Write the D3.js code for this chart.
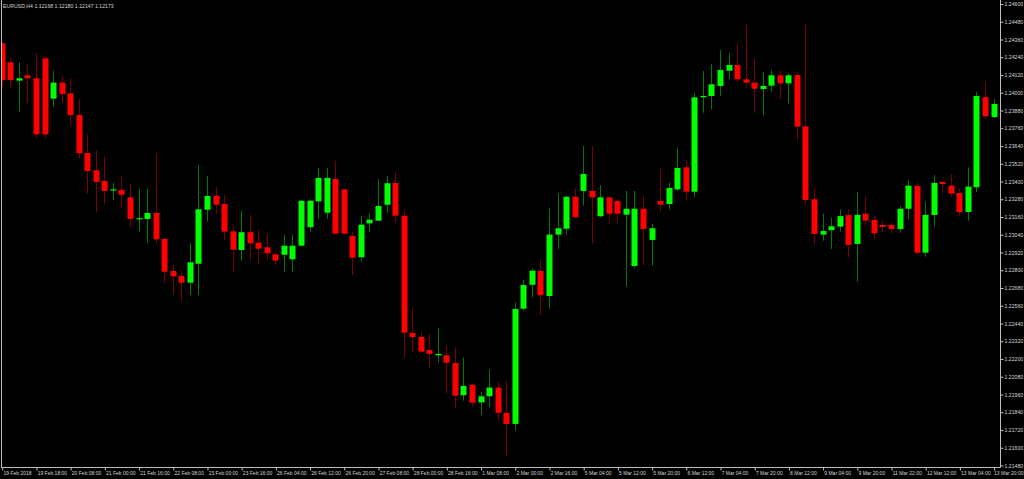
<!DOCTYPE html>
<html><head><meta charset="utf-8">
<script src="https://cdn.jsdelivr.net/npm/d3@7"></script>
<style>html,body{margin:0;padding:0;background:#000;overflow:hidden}</style>
</head><body><svg id="c" width="1024" height="479"></svg>
<script>
const title = "EURUSD,H4  1.12168 1.12180 1.12147 1.12173";

const opens = [1.24334,1.24206,1.24082,1.24118,1.24098,1.24233,1.23960,1.24068,1.23996,1.23850,
1.23593,1.23476,1.23404,1.23341,1.23343,1.23293,1.23145,1.23147,1.23187,1.23011,
1.22795,1.22761,1.22716,1.22844,1.23209,1.23304,1.23248,1.23063,1.22937,1.23057,
1.22986,1.22955,1.22908,1.22905,1.22874,1.22966,1.23091,1.23266,1.23189,1.23417,
1.23347,1.23032,1.22888,1.23117,1.23135,1.23243,1.23390,1.23169,1.22376,1.22349,
1.22261,1.22225,1.22225,1.22173,1.21955,1.22026,1.21907,1.21948,1.22007,1.21835,
1.21761,1.22540,1.22702,1.22795,1.22626,1.23041,1.23081,1.23297,1.23336,1.23336,
1.23165,1.23293,1.23268,1.23176,1.22829,1.23216,1.23005,1.23268,1.23248,1.23347,
1.23496,1.23331,1.23973,1.23978,1.24046,1.24149,1.24188,1.24091,1.24068,1.24025,
1.24048,1.24118,1.24064,1.24120,1.23773,1.23280,1.23041,1.23071,1.23095,1.23173,
1.22978,1.23182,1.23140,1.23106,1.23106,1.23079,1.23216,1.23370,1.22919,1.23174,
1.23397,1.23372,1.23322,1.23194,1.23361,1.23971,1.23836];

const highs = [1.24343,1.24233,1.24206,1.24190,1.24267,1.24255,1.24149,1.24113,1.24098,1.23958,
1.23721,1.23608,1.23568,1.23392,1.23439,1.23388,1.23349,1.23349,1.23591,1.23018,
1.22836,1.22797,1.22982,1.23512,1.23437,1.23361,1.23309,1.23091,1.23201,1.23174,
1.23072,1.23045,1.22926,1.23041,1.23041,1.23275,1.23275,1.23489,1.23489,1.23539,
1.23349,1.23061,1.23169,1.23185,1.23415,1.23437,1.23464,1.23201,1.22545,1.22385,
1.22369,1.22408,1.22295,1.22279,1.22209,1.22031,1.21976,1.22128,1.22047,1.22053,
1.22581,1.22734,1.22813,1.22874,1.23219,1.23320,1.23302,1.23351,1.23640,1.23640,
1.23376,1.23295,1.23275,1.23336,1.23336,1.23307,1.23115,1.23485,1.23392,1.23629,
1.23550,1.24000,1.24147,1.24194,1.24289,1.24267,1.24334,1.24458,1.24233,1.24142,
1.24154,1.24149,1.24131,1.24142,1.24458,1.23358,1.23182,1.23155,1.23212,1.23209,
1.23331,1.23297,1.23169,1.23135,1.23124,1.23234,1.23410,1.23392,1.23263,1.23444,
1.23404,1.23451,1.23354,1.23496,1.24007,1.24079,1.23956];

const lows = [1.24039,1.24037,1.23872,1.23933,1.23692,1.23692,1.23902,1.23933,1.23780,1.23554,
1.23320,1.23189,1.23243,1.23273,1.23228,1.23095,1.23063,1.22986,1.22980,1.22712,
1.22638,1.22588,1.22633,1.22633,1.23129,1.23182,1.23005,1.22784,1.22865,1.22863,
1.22836,1.22869,1.22836,1.22790,1.22790,1.22964,1.23061,1.23145,1.23147,1.23045,
1.23045,1.22768,1.22859,1.23061,1.23133,1.23189,1.23124,1.22212,1.22250,1.22241,
1.22137,1.22178,1.21968,1.21867,1.21918,1.21878,1.21822,1.21874,1.21783,1.21544,
1.21715,1.22527,1.22617,1.22498,1.22540,1.22942,1.23041,1.23153,1.23239,1.22982,
1.23158,1.23117,1.23117,1.22689,1.22813,1.22831,1.22831,1.23196,1.23212,1.23336,
1.23275,1.23293,1.23865,1.23888,1.23980,1.24093,1.24075,1.24034,1.23872,1.23848,
1.24007,1.23960,1.23929,1.23676,1.23241,1.22975,1.23000,1.22943,1.23061,1.22888,
1.22723,1.23099,1.23009,1.23061,1.23050,1.23054,1.23145,1.22903,1.22892,1.23095,
1.23320,1.23297,1.23162,1.23135,1.23327,1.23825,1.23829];

const closes = [1.24086,1.24086,1.24098,1.24098,1.23719,1.23719,1.24068,1.23992,1.23848,1.23591,
1.23471,1.23397,1.23336,1.23347,1.23310,1.23147,1.23152,1.23187,1.23009,1.22790,
1.22759,1.22716,1.22854,1.23212,1.23302,1.23243,1.23061,1.22939,1.23057,1.22982,
1.22946,1.22915,1.22865,1.22966,1.22966,1.23270,1.23270,1.23424,1.23424,1.23047,
1.23047,1.22885,1.23108,1.23142,1.23234,1.23388,1.23169,1.22378,1.22349,1.22250,
1.22234,1.22234,1.22175,1.21952,1.22018,1.21905,1.21948,1.22007,1.21837,1.21761,
1.22538,1.22700,1.22797,1.22631,1.23041,1.23084,1.23297,1.23158,1.23451,1.23293,
1.23293,1.23182,1.23182,1.23216,1.23216,1.23079,1.23084,1.23243,1.23356,1.23491,
1.23331,1.23969,1.23978,1.24057,1.24154,1.24188,1.24091,1.24068,1.24027,1.24046,
1.24118,1.24064,1.24118,1.23771,1.23275,1.23045,1.23065,1.23097,1.23166,1.22971,
1.23174,1.23135,1.23050,1.23092,1.23079,1.23216,1.23372,1.22919,1.23174,1.23390,
1.23383,1.23318,1.23192,1.23365,1.23978,1.23841,1.23924];

const priceTicks = [1.21480,1.21600,1.21720,1.21840,1.21960,1.22080,1.22200,1.22320,1.22440,
1.22560,1.22680,1.22800,1.22920,1.23040,1.23160,1.23280,1.23400,1.23520,1.23640,1.23760,
1.23880,1.24000,1.24120,1.24240,1.24360,1.24480,1.24600];

const timeLabels = ["19 Feb 2018","19 Feb 18:00","20 Feb 08:00","21 Feb 00:00","21 Feb 16:00",
"22 Feb 08:00","23 Feb 00:00","23 Feb 16:00","26 Feb 04:00","26 Feb 12:00","26 Feb 20:00",
"27 Feb 08:00","28 Feb 00:00","28 Feb 16:00","1 Mar 08:00","2 Mar 00:00","2 Mar 16:00",
"5 Mar 04:00","5 Mar 12:00","5 Mar 20:00","6 Mar 12:00","7 Mar 04:00","7 Mar 20:00",
"8 Mar 12:00","9 Mar 04:00","9 Mar 20:00","11 Mar 22:00","12 Mar 12:00","13 Mar 04:00","13 Mar 20:00"];
const labelEvery = 4;

const data = opens.map((o,i)=>({i, o, h:highs[i], l:lows[i], c:closes[i]}));

const W = 1024, H = 479;
const plotRight = 1000, plotBottom = 467, plotLeft = 1;
const x = d3.scaleLinear().domain([0, opens.length-1]).range([1.75, 993.6]);
const y = d3.scaleLinear().domain([1.2148, 1.2460]).range([465.5, 4]);

const FONT = "'Liberation Sans', Arial, sans-serif";
const TXT = "#d4d4d4";
const FS = "5.2px";
const FSB = "5px";

const svg = d3.select("#c");
svg.append("rect").attr("width",W).attr("height",H).attr("fill","#000");

svg.append("defs").append("clipPath").attr("id","clip")
  .append("rect").attr("x",plotLeft+1).attr("y",0).attr("width",plotRight-plotLeft-1).attr("height",plotBottom);

const g = svg.append("g").attr("clip-path","url(#clip)");
const bodyW = 6;
const up = d=>d.c>=d.o;

g.selectAll("line.wick").data(data).join("line")
  .attr("x1",d=>Math.round(x(d.i))+0.5).attr("x2",d=>Math.round(x(d.i))+0.5)
  .attr("y1",d=>y(d.h)).attr("y2",d=>y(d.l))
  .attr("stroke",d=>up(d)?"#007a00":"#7a0000").attr("stroke-width",1);

g.selectAll("rect.body").data(data).join("rect")
  .attr("x",d=>Math.round(x(d.i))-bodyW/2+0.5)
  .attr("width",bodyW)
  .attr("y",d=>y(Math.max(d.o,d.c)))
  .attr("height",d=>Math.max(1.2, Math.abs(y(d.o)-y(d.c))))
  .attr("fill",d=>up(d)?"#00ff00":"#ff0000");

const lineCol = "#bdbdbd";
svg.append("line").attr("x1",plotLeft+0.5).attr("x2",plotLeft+0.5).attr("y1",0).attr("y2",plotBottom)
  .attr("stroke",lineCol);

// right axis
const ra = svg.append("g").attr("transform",`translate(${plotRight+0.5},0)`)
  .call(d3.axisRight(y).tickValues(priceTicks).tickSize(3).tickPadding(1).tickFormat(d3.format(".5f")));
ra.select(".domain").remove();
svg.append("line").attr("x1",plotRight+0.5).attr("x2",plotRight+0.5).attr("y1",0).attr("y2",plotBottom+0.5)
  .attr("stroke",lineCol);
ra.selectAll("line").attr("stroke",lineCol);
ra.selectAll("text").attr("fill",TXT).attr("font-size",FS).attr("font-family",FONT);

// bottom axis
const tickIdx = timeLabels.map((_,k)=>k*labelEvery);
const ba = svg.append("g").attr("transform",`translate(0,${plotBottom+0.5})`)
  .call(d3.axisBottom(x).tickValues(tickIdx).tickSize(3).tickPadding(1)
    .tickFormat((d,k)=>timeLabels[k]));
ba.select(".domain").remove();
svg.append("line").attr("x1",plotLeft).attr("x2",plotRight+0.5).attr("y1",plotBottom+0.5).attr("y2",plotBottom+0.5)
  .attr("stroke",lineCol);
ba.selectAll(".tick line").attr("transform","translate(0.5,0)").attr("stroke",lineCol);
ba.selectAll("text").attr("fill",TXT).attr("font-size",FSB).attr("font-family",FONT)
  .attr("text-anchor","start").attr("dx","1.2px").attr("dy","0.65em");
// keep the last time label inside the picture (right-aligned to the edge)
const lastIdx = tickIdx[tickIdx.length-1];
ba.selectAll(".tick").filter(d=>d===lastIdx).select("text")
  .attr("text-anchor","end").attr("dx",null).attr("x", (W-1) - x(lastIdx));

// title
svg.append("text").attr("x",3).attr("y",8).text(title)
  .attr("fill",TXT).attr("font-size",FS).attr("font-family",FONT);
</script></body></html>
